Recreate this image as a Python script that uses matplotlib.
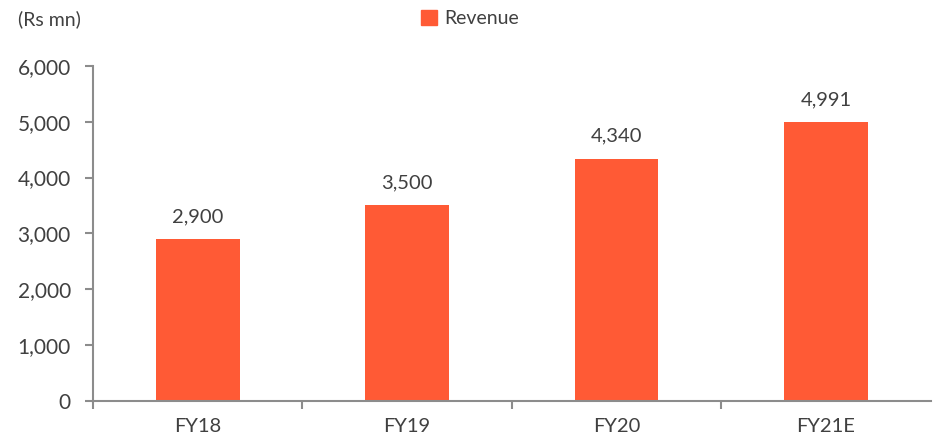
import matplotlib
matplotlib.use("Agg")
import matplotlib.pyplot as plt
from matplotlib.patches import Patch

# Data
years = ["FY18", "FY19", "FY20", "FY21E"]
revenue = [2900, 3500, 4340, 4991]
value_labels = ["2,900", "3,500", "4,340", "4,991"]
yticks = [0, 1000, 2000, 3000, 4000, 5000, 6000]
ytick_labels = ["0", "1,000", "2,000", "3,000", "4,000", "5,000", "6,000"]

bar_color = "#FF5A35"
axis_color = "#8C8C8C"
text_color = "#404040"

plt.rcParams["font.family"] = ["Lato", "DejaVu Sans"]

fig = plt.figure(figsize=(9.4, 4.48), dpi=100)
ax = fig.add_axes([0.099, 0.105, 0.891, 0.748])

x = list(range(len(years)))
ax.bar(x, revenue, width=0.4, color=bar_color)

for xi, v, lab in zip(x, revenue, value_labels):
    ax.annotate(lab, (xi, v), xytext=(0, 10), textcoords="offset points",
                ha="center", va="bottom", fontsize=14.5, color=text_color)

ax.set_xlim(-0.5, 3.5)
ax.set_ylim(0, 6000)
ax.set_yticks(yticks)
ax.set_yticklabels(ytick_labels, fontsize=15, color=text_color)
ax.set_xticks(x)
ax.set_xticklabels(years, fontsize=14.5, color=text_color)
ax.tick_params(axis="x", which="major", length=0, pad=12)
ax.set_xticks([-0.5, 0.5, 1.5, 2.5], minor=True)
ax.tick_params(axis="x", which="minor", length=6, width=1.5, color=axis_color)
ax.tick_params(axis="y", length=6, width=1.5, color=axis_color, pad=10)

for side in ["top", "right"]:
    ax.spines[side].set_visible(False)
for side in ["left", "bottom"]:
    ax.spines[side].set_color(axis_color)
    ax.spines[side].set_linewidth(1.5)

fig.text(0.019, 0.958, "(Rs mn)", fontsize=14, color=text_color, va="center")
fig.legend(handles=[Patch(color=bar_color, label="Revenue")], loc="center",
           bbox_to_anchor=(0.5, 0.958), frameon=False, fontsize=14,
           handlelength=0.8, handleheight=0.8, handletextpad=0.4, labelcolor=text_color)

fig.savefig("out.png", dpi=100)
